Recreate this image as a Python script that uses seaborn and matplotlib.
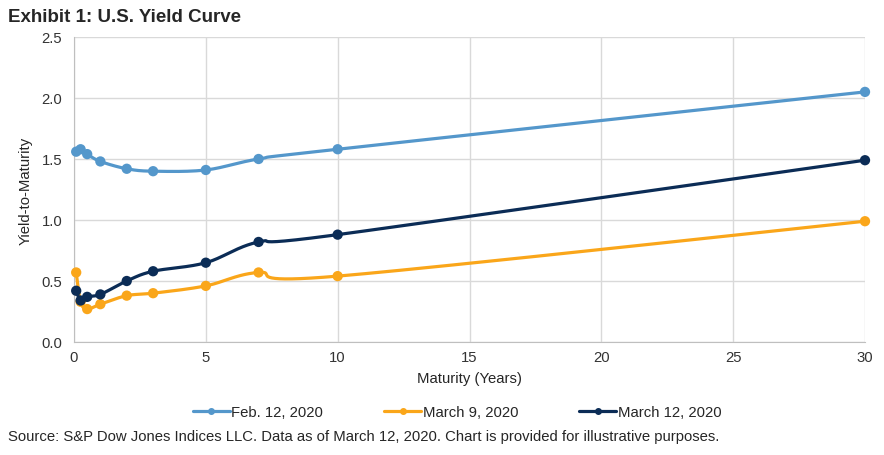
import numpy as np
import pandas as pd
import matplotlib
matplotlib.use("Agg")
import matplotlib.pyplot as plt
import seaborn as sns

# maturities in years (1M, 3M, 6M, 1Y, 2Y, 3Y, 5Y, 7Y, 10Y, 30Y)
maturity = [1 / 12, 0.25, 0.5, 1, 2, 3, 5, 7, 10, 30]
feb12 = [1.56, 1.58, 1.54, 1.48, 1.42, 1.40, 1.41, 1.50, 1.58, 2.05]
mar09 = [0.57, 0.33, 0.27, 0.31, 0.38, 0.40, 0.46, 0.57, 0.54, 0.99]
mar12 = [0.42, 0.34, 0.37, 0.39, 0.50, 0.58, 0.65, 0.82, 0.88, 1.49]
series_names = ["Feb. 12, 2020", "March 9, 2020", "March 12, 2020"]
colors = ["#5497CB", "#FAA61A", "#0B2C56"]


def smooth(x, y, n=40):
    # Catmull-Rom style smoothing like Excel's "smoothed line"
    x = np.asarray(x, float)
    y = np.asarray(y, float)
    px = np.concatenate([[x[0]], x, [x[-1]]])
    py = np.concatenate([[y[0]], y, [y[-1]]])
    xs, ys = [], []
    for i in range(1, len(px) - 2):
        p0, p1, p2, p3 = (np.array([px[j], py[j]]) for j in range(i - 1, i + 3))
        t = np.linspace(0, 1, n)[:, None]
        c1 = p1 + (p2 - p0) / 6
        c2 = p2 - (p3 - p1) / 6
        pts = ((1 - t) ** 3) * p1 + 3 * ((1 - t) ** 2) * t * c1 + 3 * (1 - t) * t ** 2 * c2 + t ** 3 * p2
        xs.extend(pts[:, 0])
        ys.extend(pts[:, 1])
    return np.array(xs), np.array(ys)


points = pd.DataFrame({
    "Maturity": maturity * 3,
    "Yield": feb12 + mar09 + mar12,
    "Series": np.repeat(series_names, len(maturity)),
})

curves = []
for name, vals in zip(series_names, [feb12, mar09, mar12]):
    sx, sy = smooth(maturity, vals)
    curves.append(pd.DataFrame({"Maturity": sx, "Yield": sy, "Series": name}))
curves = pd.concat(curves, ignore_index=True)

sns.set_style("white")
plt.rcParams["font.family"] = ["Liberation Sans", "DejaVu Sans"]
fs = 10.7

fig = plt.figure(figsize=(8.84, 4.56), dpi=100)
ax = fig.add_axes([74 / 884, 1 - 343 / 456, (865 - 74) / 884, (343 - 38) / 456])

palette = dict(zip(series_names, colors))
sns.lineplot(data=curves, x="Maturity", y="Yield", hue="Series", palette=palette,
             linewidth=2.3, sort=False, estimator=None, ax=ax, legend=False, zorder=3)
sns.scatterplot(data=points, x="Maturity", y="Yield", hue="Series", palette=palette,
                s=55, edgecolor="none", ax=ax, legend=False, zorder=4, clip_on=False)

ax.set_xlim(0, 30)
ax.set_ylim(0, 2.5)
ax.set_xticks(range(0, 31, 5))
ax.set_yticks(np.arange(0, 2.51, 0.5))
ax.set_yticklabels([f"{v:.1f}" for v in np.arange(0, 2.51, 0.5)])
ax.grid(True, color="#D9D9D9", linewidth=1)
ax.set_axisbelow(True)
for s in ["top", "right"]:
    ax.spines[s].set_visible(False)
for s in ["left", "bottom"]:
    ax.spines[s].set_color("#BFBFBF")
ax.tick_params(axis="both", labelsize=fs, colors="#333333", length=5, color="#D9D9D9")
ax.tick_params(axis="x", length=0, pad=6)
ax.set_xlabel("Maturity (Years)", fontsize=fs, labelpad=5)
ax.set_ylabel("Yield-to-Maturity", fontsize=fs, labelpad=6)

handles = [plt.Line2D([], [], color=c, linewidth=2.3, marker="o", markersize=4) for c in colors]
fig.legend(handles, series_names, loc="center", bbox_to_anchor=(457 / 884, 1 - 413 / 456), ncol=3,
           frameon=False, fontsize=fs, columnspacing=4.1, handlelength=2.5, handletextpad=0.1)

fig.text(8 / 884, 1 - 18 / 456, "Exhibit 1: U.S. Yield Curve", fontsize=13.5, fontweight="bold", va="center")
fig.text(8 / 884, 1 - 437 / 456,
         "Source: S&P Dow Jones Indices LLC. Data as of March 12, 2020. Chart is provided for illustrative purposes.",
         fontsize=fs, va="center")

fig.savefig("out.png", dpi=100)
plt.close()
